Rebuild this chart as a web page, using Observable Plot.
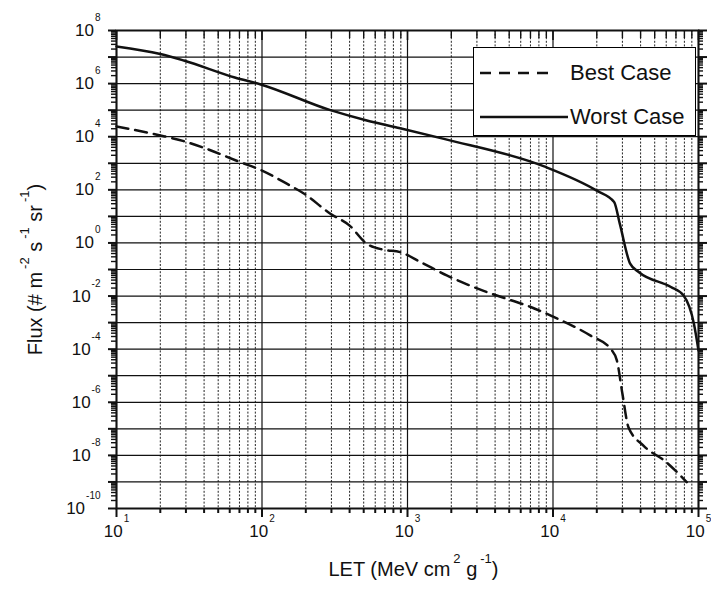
<!DOCTYPE html>
<html>
<head>
<meta charset="utf-8">
<script src="https://cdn.jsdelivr.net/npm/d3@7"></script>
<script src="https://cdn.jsdelivr.net/npm/@observablehq/plot@0.6"></script>
<style>
  body { margin: 0; background: #fff; }
  #wrap { position: relative; width: 711px; height: 592px; font-family: "Liberation Sans", Arial, Helvetica, sans-serif; }
  #legend { position: absolute; left: 473px; top: 47px; width: 223px; height: 89px; box-sizing: border-box;
            border: 1.6px solid #000; background: #fff; }
  #legend .row { position: absolute; left: 0; width: 100%; height: 26px; }
  #legend svg { position: absolute; left: 0; top: 0; }
  #legend .lab { position: absolute; left: 96px; top: 0; line-height: 26px; font-size: 22px; color: #111; white-space: nowrap; }
</style>
</head>
<body>
<div id="wrap"></div>
<script>
// ---- Data ----
const worstLET  = [10, 20, 29, 65, 98, 295, 525, 890, 1780, 8700, 20000, 26300, 28800, 33900, 39000, 64600, 79000, 93000, 100000];
const worstFlux = [2.5e7, 1.3e7, 7.4e6, 1.7e6, 9.3e5, 1.0e5, 4.1e4, 2.1e4, 8.3e3, 760, 93, 35, 5.2, 0.166, 0.079, 0.022, 0.0105, 9.1e-4, 8.9e-5];

const bestLET  = [10, 20, 29, 40, 71, 98, 148, 195, 295, 398, 525, 690, 890, 1230, 1860, 3300, 4800, 7100, 9500, 18000, 25000, 27500, 30000, 33000, 42000, 60000, 83000];
const bestFlux = [2.45e4, 1.12e4, 6.8e3, 3.8e3, 1.1e3, 560, 170, 71, 12.6, 4.6, 0.93, 0.55, 0.45, 0.19, 0.060, 0.016, 0.0079, 0.0038, 0.0019, 3.3e-4, 1.0e-4, 3.7e-5, 2.1e-6, 1.15e-7, 2.3e-8, 5.6e-9, 9.8e-10];

const xLabelExps = [1, 2, 3, 4, 5];
const yLabelExps = [8, 6, 4, 2, 0, -2, -4, -6, -8, -10];
const xTitle = "LET (MeV cm^{2} g^{-1})";
const yTitle = "Flux (# m^{-2} s^{-1} sr^{-1})";
const legendLabels = ["Best Case", "Worst Case"];

// ---- Layout ----
const W = 711, H = 592, mL = 116, mR = 13, mT = 30, mB = 84;
const PW = W - mL - mR, PH = H - mT - mB;

// ---- Tick positions ----
const decadesX = d3.range(1, 6).map(e => 10 ** e);
const decadesY = d3.range(-10, 9).map(e => 10 ** e);
const minorX = [];
for (let e = 1; e < 5; e++) for (let k = 2; k <= 9; k++) minorX.push(k * 10 ** e);
const minorY = [];
for (let e = -10; e < 8; e++) for (let k = 2; k <= 9; k++) minorY.push(k * 10 ** e);
const xLabelVals = xLabelExps.map(e => 10 ** e);
const yLabelVals = yLabelExps.map(e => 10 ** e);
const expOf = v => Math.round(Math.log10(v));

const worst = worstLET.map((x, i) => ({x, y: worstFlux[i]}));
const best = bestLET.map((x, i) => ({x, y: bestFlux[i]}));

const ink = "#111";

const chart = Plot.plot({
  width: W,
  height: H,
  marginLeft: mL,
  marginRight: mR,
  marginTop: mT,
  marginBottom: mB,
  style: {fontFamily: "'Liberation Sans', Arial, Helvetica, sans-serif", fontSize: "17px", color: ink, background: "#fff", overflow: "visible"},
  x: {type: "log", domain: [10, 1e5], label: null},
  y: {type: "log", domain: [1e-10, 1e8], label: null},
  marks: [
    // grid
    Plot.ruleX(minorX, {stroke: "#222", strokeWidth: 1, strokeDasharray: "2,1.6"}),
    Plot.ruleX(decadesX, {stroke: ink, strokeWidth: 1.2}),
    Plot.ruleY(decadesY, {stroke: ink, strokeWidth: 1.2}),
    // curves
    Plot.line(best, {x: "x", y: "y", stroke: ink, strokeWidth: 2.5, strokeDasharray: "12,7", curve: "monotone-x"}),
    Plot.line(worst, {x: "x", y: "y", stroke: ink, strokeWidth: 2.5, curve: "monotone-x"}),
    Plot.frame({stroke: ink, strokeWidth: 2}),
    // bottom ticks (outward)
    Plot.tickX(decadesX, {x: d => d, insetTop: PH, insetBottom: -9, stroke: ink, strokeWidth: 2}),
    Plot.tickX(minorX, {x: d => d, insetTop: PH, insetBottom: -5, stroke: ink, strokeWidth: 2}),
    // top ticks (inward)
    Plot.tickX(decadesX, {x: d => d, insetTop: 0, insetBottom: PH - 10, stroke: ink, strokeWidth: 1.6}),
    Plot.tickX(minorX, {x: d => d, insetTop: 0, insetBottom: PH - 8, stroke: ink, strokeWidth: 1.4}),
    // left ticks (outward)
    Plot.tickY(decadesY, {y: d => d, insetLeft: -8, insetRight: PW, stroke: ink, strokeWidth: 2}),
    Plot.tickY(minorY, {y: d => d, insetLeft: -5, insetRight: PW, stroke: ink, strokeWidth: 1.4}),
    // right ticks (outward)
    Plot.tickY(decadesY, {y: d => d, insetLeft: PW, insetRight: -9, stroke: ink, strokeWidth: 2}),
    Plot.tickY(minorY, {y: d => d, insetLeft: PW, insetRight: -5, stroke: ink, strokeWidth: 1.4}),
    // tick labels
    Plot.axisX({anchor: "bottom", ticks: xLabelVals, tickSize: 0, tickPadding: 16, fontSize: 17,
                tickFormat: d => `10^{${expOf(d)}}`, label: null}),
    Plot.axisY({anchor: "left", ticks: yLabelVals, tickSize: 0, tickPadding: 16, fontSize: 17,
                tickFormat: d => `10^{${expOf(d)}}`, label: null}),
    // axis titles
    Plot.text([xTitle], {frameAnchor: "bottom", dx: 6, dy: 67, fontSize: 20, fill: ink, textAnchor: "middle", text: d => d}),
    Plot.text([yTitle], {frameAnchor: "left", dx: -81, dy: 0, rotate: -90, fontSize: 20, fill: ink, textAnchor: "middle", text: d => d})
  ]
});

// Turn "^{...}" into raised tspans
function supify(svg) {
  svg.querySelectorAll("text").forEach(t => {
    const s = t.textContent;
    if (!s.includes("^{")) return;
    const isTick = !!t.closest('[aria-label$="tick label"]');
    const rise = isTick ? 15 : 13;
    const size = isTick ? 10 : 13;
    const supDx = isTick ? 1 : 3;
    if (!isTick) t.setAttribute("text-anchor", "middle");
    while (t.firstChild) t.removeChild(t.firstChild);
    const re = /\^\{([^}]*)\}/g;
    let last = 0, raised = false, m;
    const NS = "http://www.w3.org/2000/svg";
    const add = (txt, sup) => {
      const sp = document.createElementNS(NS, "tspan");
      sp.textContent = txt;
      if (sup) {
        sp.setAttribute("font-size", size);
        sp.setAttribute("dy", -rise);
        sp.setAttribute("dx", supDx);
      } else if (raised) {
        sp.setAttribute("dy", rise);
      }
      t.appendChild(sp);
    };
    while ((m = re.exec(s)) !== null) {
      if (m.index > last) { add(s.slice(last, m.index), false); raised = false; }
      add(m[1], true); raised = true;
      last = re.lastIndex;
    }
    if (last < s.length) { add(s.slice(last), false); raised = false; }
  });
}
supify(chart);

const wrap = document.getElementById("wrap");
wrap.appendChild(chart);

// Legend overlay
const legend = document.createElement("div");
legend.id = "legend";
const legendStyles = [{dash: "11,8", len: 74}, {dash: null, len: 88}];
const rowTops = [12, 56];
legendLabels.forEach((lab, i) => {
  const row = document.createElement("div");
  row.className = "row";
  row.style.top = rowTops[i] + "px";
  const st = legendStyles[i];
  row.innerHTML = `<svg width="100" height="26"><line x1="6" x2="${6 + st.len}" y1="13" y2="13" stroke="${ink}" stroke-width="2.5" ${st.dash ? `stroke-dasharray="${st.dash}"` : ""}/></svg><div class="lab">${lab}</div>`;
  legend.appendChild(row);
});
wrap.appendChild(legend);
</script>
</body>
</html>
